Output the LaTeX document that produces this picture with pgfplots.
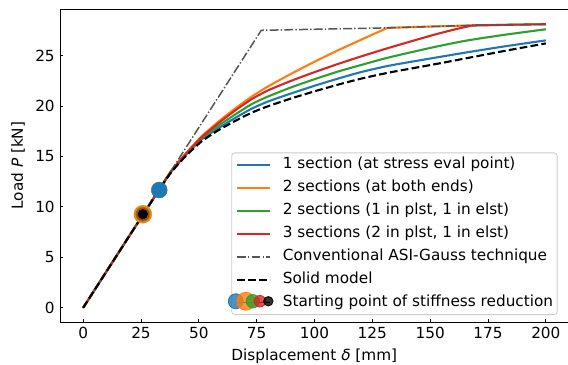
\documentclass[border=0pt]{standalone}
\usepackage{fontspec}
\setmainfont{DejaVu Sans}
\usepackage{pgfplots}
\pgfplotsset{compat=1.18}
\definecolor{c1}{HTML}{1F77B4}
\definecolor{c2}{HTML}{FF7F0E}
\definecolor{c3}{HTML}{2CA02C}
\definecolor{c4}{HTML}{D62728}
\definecolor{cg}{HTML}{555555}
\newcommand{\fs}{\fontsize{15.28bp}{18bp}\selectfont}
\begin{document}
\fs
\begin{tikzpicture}
\begin{axis}[name=ax, scale only axis, width=508.5bp, height=313bp,
  xmin=-10, xmax=209.8, ymin=-1.41, ymax=29.61,
  xtick={0,25,...,200}, ytick={0,5,...,25},
  tick pos=left, tick align=inside, major tick length=3.5bp,
  tick style={line width=0.8bp, black},
  /pgf/number format/assume math mode=true,
  ticklabel style={font=\fs},
  label style={font=\fs},
  xlabel={Displacement \textit{δ} [mm]},
  ylabel={Load \textit{P} [kN]},
  axis line style={line width=0.8bp},
  legend cell align=left,
  legend image code/.code={\draw[#1] (0bp,0bp) -- (33bp,0bp);},
  legend style={at={(axis description cs:1,0)}, anchor=south east,
    xshift=-11bp, yshift=7bp, draw=black!20, line width=0.8bp,
    rounded corners=3bp, fill=white, fill opacity=0.8, text opacity=1,
    draw opacity=1, inner xsep=4bp, inner ysep=4bp, row sep=7.3bp,
    column sep=12bp, font=\fs,
    nodes={inner sep=0bp, text height=12bp, text depth=3.7bp}},
]
\addplot[c1, line width=2.1bp, smooth, tension=0.4] coordinates {(0,0)(26,9.27)(33,11.75)(38,13.45)(44,15.05)(51,16.65)(58.5,17.8)(66,18.85)(73,19.75)(80,20.45)(90,21.25)(100,22.0)(110,22.7)(120,23.35)(132,23.98)(150,24.7)(165,25.28)(182,25.9)(200,26.5)};
\addlegendentry{1 section (at stress eval point)}
\addplot[c2, line width=2.1bp, smooth, tension=0.4] coordinates {(0,0)(26,9.27)(33,11.75)(38,13.55)(44,15.2)(51,16.95)(58.5,18.45)(66,19.8)(73,20.95)(80,21.95)(90,23.2)(100,24.38)(110,25.5)(120,26.55)(131.5,27.74)};
\addlegendentry{2 sections (at both ends)}
\addplot[c2, line width=2.1bp, forget plot] coordinates {(131.5,27.74)(150,27.87)(170,28.0)(200,28.1)};
\addplot[c3, line width=2.1bp, smooth, tension=0.4] coordinates {(0,0)(26,9.27)(33,11.75)(38,13.5)(44,15.1)(51,16.75)(58.5,18.05)(66,19.2)(73,20.2)(80,20.95)(90,21.85)(100,22.65)(110,23.4)(120,24.05)(132,24.8)(150,25.75)(165,26.45)(182,27.05)(200,27.6)};
\addlegendentry{2 sections (1 in plst, 1 in elst)}
\addplot[c4, line width=2.1bp, smooth, tension=0.4] coordinates {(0,0)(26,9.27)(33,11.75)(38,13.5)(44,15.15)(51,16.85)(58.5,18.3)(66,19.6)(73,20.7)(80,21.55)(90,22.5)(100,23.35)(110,24.15)(120,24.9)(132,25.75)(150,26.95)(160,27.55)(168,27.97)};
\addlegendentry{3 sections (2 in plst, 1 in elst)}
\addplot[c4, line width=2.1bp, forget plot] coordinates {(168,27.97)(185,28.05)(200,28.1)};
\addplot[cg, line width=1.5bp, dash pattern=on 8.9bp off 2.2bp on 1.4bp off 2.2bp] coordinates {(0,0)(77,27.5)(100,27.6)(131.5,27.74)(150,27.87)(170,28.0)(200,28.1)};
\addlegendentry{Conventional ASI-Gauss technique}
\addplot[black, line width=2.1bp, dash pattern=on 7.7bp off 3.3bp, smooth, tension=0.4] coordinates {(0,0)(26,9.27)(33,11.75)(38,13.4)(44,14.95)(51,16.45)(58.5,17.6)(66,18.55)(73,19.35)(80,19.98)(90,20.75)(100,21.45)(110,22.1)(120,22.7)(132,23.3)(150,24.05)(165,24.7)(182,25.45)(200,26.2)};
\addlegendentry{Solid model}
\addplot[only marks, mark=*, mark size=8bp, c1, forget plot] coordinates {(32.9,11.67)};
\addplot[only marks, mark=*, mark size=9bp, c2, forget plot] coordinates {(25.8,9.27)};
\addplot[only marks, mark=*, mark size=7bp, c3, forget plot] coordinates {(25.8,9.27)};
\addplot[only marks, mark=*, mark size=6bp, c4, forget plot] coordinates {(25.8,9.27)};
\addplot[only marks, mark=*, mark size=4.8bp, black, forget plot] coordinates {(25.8,9.27)};
\addlegendimage{legend image code/.code={
  \path (0bp,0bp) -- (33bp,0bp);
  \fill[c1, overlay] (-1bp,1.5bp) circle (7.5bp);
  \fill[c2, overlay] (9bp,1.5bp) circle (9bp);
  \fill[c3, overlay] (16bp,1.5bp) circle (6.7bp);
  \fill[c4, overlay] (23bp,1.5bp) circle (5.8bp);
  \fill[black, overlay] (31.5bp,1.5bp) circle (4.7bp);}}
\addlegendentry{Starting point of stiffness reduction}
\end{axis}
\pgfresetboundingbox
\path[use as bounding box] ([shift={(-60bp,-43bp)}]ax.south west) rectangle ([shift={(-0.5bp,9bp)}]ax.north east);
\end{tikzpicture}
\end{document}
